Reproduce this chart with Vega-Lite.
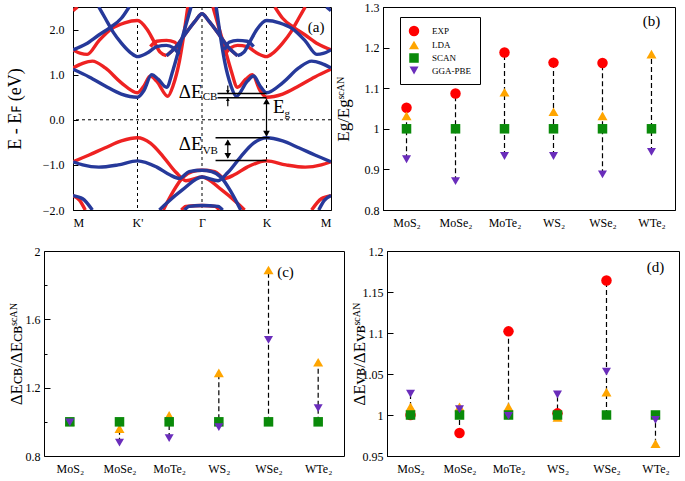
{
  "$schema": "https://vega.github.io/schema/vega-lite/v6.json",
  "padding": {"left": 5, "top": 0, "right": 3, "bottom": 2},
  "background": "white",
  "spacing": 15,
  "resolve": {"scale": {"color": "independent", "shape": "independent", "size": "independent"}, "legend": {"color": "independent", "shape": "independent", "size": "independent"}},
  "datasets": {
    "red": [
      {"b":"r1","k":0,"e":-0.93},{"b":"r1","k":0.25,"e":-0.78},{"b":"r1","k":0.5,"e":-0.62},{"b":"r1","k":0.75,"e":-0.47},{"b":"r1","k":1.0,"e":-0.40},{"b":"r1","k":1.2,"e":-0.52},{"b":"r1","k":1.4,"e":-0.82},{"b":"r1","k":1.6,"e":-1.17},{"b":"r1","k":1.75,"e":-1.35},{"b":"r1","k":2.0,"e":-1.27},{"b":"r1","k":2.3,"e":-1.55},{"b":"r1","k":2.55,"e":-1.85},{"b":"r1","k":2.66,"e":-2.0},
      {"b":"r2","k":1.4,"e":-2.0},{"b":"r2","k":1.55,"e":-1.6},{"b":"r2","k":1.7,"e":-1.28},{"b":"r2","k":1.85,"e":-1.15},{"b":"r2","k":2.0,"e":-1.12},{"b":"r2","k":2.2,"e":-1.15},{"b":"r2","k":2.35,"e":-1.3},{"b":"r2","k":2.5,"e":-1.22},{"b":"r2","k":2.7,"e":-1.05},{"b":"r2","k":3.0,"e":-0.91},{"b":"r2","k":3.3,"e":-1.0},{"b":"r2","k":3.6,"e":-1.05},{"b":"r2","k":3.85,"e":-1.0},{"b":"r2","k":4.0,"e":-0.93},
      {"b":"r3","k":1.68,"e":-2.0},{"b":"r3","k":1.75,"e":-1.92},{"b":"r3","k":2.0,"e":-1.9},{"b":"r3","k":2.2,"e":-1.92},{"b":"r3","k":2.27,"e":-2.0},
      {"b":"r4","k":0,"e":-1.68},{"b":"r4","k":0.1,"e":-1.78},{"b":"r4","k":0.19,"e":-2.0},
      {"b":"r5","k":3.7,"e":-2.0},{"b":"r5","k":3.85,"e":-1.75},{"b":"r5","k":4.0,"e":-1.68},
      {"b":"r6","k":0,"e":1.15},{"b":"r6","k":0.15,"e":1.25},{"b":"r6","k":0.3,"e":1.3},{"b":"r6","k":0.5,"e":1.15},{"b":"r6","k":0.75,"e":0.82},{"b":"r6","k":1.0,"e":0.6},{"b":"r6","k":1.1,"e":0.75},{"b":"r6","k":1.2,"e":0.97},{"b":"r6","k":1.3,"e":0.85},{"b":"r6","k":1.47,"e":0.52},{"b":"r6","k":1.55,"e":0.75},{"b":"r6","k":1.65,"e":1.3},{"b":"r6","k":1.72,"e":1.9},{"b":"r6","k":1.78,"e":2.5},
      {"b":"r7","k":2.17,"e":2.5},{"b":"r7","k":2.25,"e":2.1},{"b":"r7","k":2.35,"e":1.6},{"b":"r7","k":2.45,"e":1.1},{"b":"r7","k":2.55,"e":0.72},{"b":"r7","k":2.68,"e":0.9},{"b":"r7","k":2.78,"e":1.0},{"b":"r7","k":2.9,"e":0.65},{"b":"r7","k":3.0,"e":0.5},{"b":"r7","k":3.25,"e":0.57},{"b":"r7","k":3.5,"e":0.75},{"b":"r7","k":3.75,"e":0.95},{"b":"r7","k":4.0,"e":1.12},
      {"b":"r8","k":0,"e":1.55},{"b":"r8","k":0.12,"e":1.47},{"b":"r8","k":0.22,"e":1.45},{"b":"r8","k":0.4,"e":1.75},{"b":"r8","k":0.6,"e":2.02},{"b":"r8","k":0.8,"e":2.15},{"b":"r8","k":1.0,"e":2.2},{"b":"r8","k":1.15,"e":2.0},{"b":"r8","k":1.25,"e":1.75},{"b":"r8","k":1.35,"e":1.5},{"b":"r8","k":1.45,"e":1.42},
      {"b":"r9","k":1.45,"e":1.42},{"b":"r9","k":1.6,"e":1.62},{"b":"r9","k":1.75,"e":1.92},{"b":"r9","k":1.9,"e":2.2},{"b":"r9","k":2.0,"e":2.35},{"b":"r9","k":2.1,"e":2.2},{"b":"r9","k":2.25,"e":1.92},{"b":"r9","k":2.4,"e":1.62},{"b":"r9","k":2.55,"e":1.42},
      {"b":"r10","k":1.2,"e":1.62},{"b":"r10","k":1.3,"e":1.74},{"b":"r10","k":1.45,"e":1.76},{"b":"r10","k":1.58,"e":1.72},{"b":"r10","k":1.65,"e":1.55},
      {"b":"r11","k":0,"e":2.42},{"b":"r11","k":0.07,"e":2.5},
      {"b":"r13","k":3.13,"e":2.5},{"b":"r13","k":3.25,"e":2.25},{"b":"r13","k":3.42,"e":2.05},{"b":"r13","k":3.6,"e":1.88},{"b":"r13","k":3.8,"e":1.68},{"b":"r13","k":4.0,"e":1.55},
      {"b":"r15","k":2.35,"e":1.45},{"b":"r15","k":2.45,"e":1.6},{"b":"r15","k":2.55,"e":1.65},{"b":"r15","k":2.7,"e":1.62},{"b":"r15","k":2.85,"e":1.48},{"b":"r15","k":3.0,"e":1.4},{"b":"r15","k":3.1,"e":1.48},{"b":"r15","k":3.25,"e":1.7},{"b":"r15","k":3.38,"e":1.95},{"b":"r15","k":3.5,"e":2.25},{"b":"r15","k":3.6,"e":2.5}
    ],
    "blue": [
      {"b":"b1","k":1.34,"e":-2.0},{"b":"b1","k":1.45,"e":-1.85},{"b":"b1","k":1.7,"e":-1.55},{"b":"b1","k":2.0,"e":-1.27},{"b":"b1","k":2.25,"e":-1.35},{"b":"b1","k":2.4,"e":-1.17},{"b":"b1","k":2.6,"e":-0.82},{"b":"b1","k":2.8,"e":-0.52},{"b":"b1","k":3.0,"e":-0.40},{"b":"b1","k":3.25,"e":-0.47},{"b":"b1","k":3.5,"e":-0.62},{"b":"b1","k":3.75,"e":-0.78},{"b":"b1","k":4.0,"e":-0.93},
      {"b":"b2","k":0,"e":-0.93},{"b":"b2","k":0.15,"e":-1.0},{"b":"b2","k":0.4,"e":-1.05},{"b":"b2","k":0.7,"e":-1.0},{"b":"b2","k":1.0,"e":-0.91},{"b":"b2","k":1.3,"e":-1.05},{"b":"b2","k":1.5,"e":-1.22},{"b":"b2","k":1.65,"e":-1.3},{"b":"b2","k":1.8,"e":-1.15},{"b":"b2","k":2.0,"e":-1.12},{"b":"b2","k":2.15,"e":-1.15},{"b":"b2","k":2.3,"e":-1.28},{"b":"b2","k":2.45,"e":-1.6},{"b":"b2","k":2.6,"e":-2.0},
      {"b":"b3","k":1.73,"e":-2.0},{"b":"b3","k":1.8,"e":-1.92},{"b":"b3","k":2.0,"e":-1.9},{"b":"b3","k":2.25,"e":-1.92},{"b":"b3","k":2.32,"e":-2.0},
      {"b":"b4","k":0,"e":-1.68},{"b":"b4","k":0.15,"e":-1.75},{"b":"b4","k":0.3,"e":-2.0},
      {"b":"b5","k":3.81,"e":-2.0},{"b":"b5","k":3.9,"e":-1.78},{"b":"b5","k":4.0,"e":-1.68},
      {"b":"b6","k":0,"e":1.12},{"b":"b6","k":0.25,"e":0.95},{"b":"b6","k":0.5,"e":0.75},{"b":"b6","k":0.75,"e":0.57},{"b":"b6","k":1.0,"e":0.5},{"b":"b6","k":1.1,"e":0.65},{"b":"b6","k":1.22,"e":1.0},{"b":"b6","k":1.32,"e":0.9},{"b":"b6","k":1.45,"e":0.72},{"b":"b6","k":1.55,"e":1.1},{"b":"b6","k":1.65,"e":1.6},{"b":"b6","k":1.75,"e":2.1},{"b":"b6","k":1.83,"e":2.5},
      {"b":"b7","k":2.22,"e":2.5},{"b":"b7","k":2.28,"e":1.9},{"b":"b7","k":2.35,"e":1.3},{"b":"b7","k":2.45,"e":0.75},{"b":"b7","k":2.53,"e":0.52},{"b":"b7","k":2.7,"e":0.85},{"b":"b7","k":2.8,"e":0.97},{"b":"b7","k":2.9,"e":0.75},{"b":"b7","k":3.0,"e":0.6},{"b":"b7","k":3.25,"e":0.82},{"b":"b7","k":3.5,"e":1.15},{"b":"b7","k":3.7,"e":1.3},{"b":"b7","k":3.85,"e":1.25},{"b":"b7","k":4.0,"e":1.15},
      {"b":"b8","k":2.55,"e":1.42},{"b":"b8","k":2.65,"e":1.5},{"b":"b8","k":2.75,"e":1.75},{"b":"b8","k":2.85,"e":2.0},{"b":"b8","k":3.0,"e":2.2},{"b":"b8","k":3.2,"e":2.15},{"b":"b8","k":3.4,"e":2.02},{"b":"b8","k":3.6,"e":1.75},{"b":"b8","k":3.78,"e":1.45},{"b":"b8","k":3.88,"e":1.47},{"b":"b8","k":4.0,"e":1.55},
      {"b":"b9","k":1.45,"e":1.42},{"b":"b9","k":1.6,"e":1.62},{"b":"b9","k":1.75,"e":1.92},{"b":"b9","k":1.9,"e":2.2},{"b":"b9","k":2.0,"e":2.35},{"b":"b9","k":2.1,"e":2.2},{"b":"b9","k":2.25,"e":1.92},{"b":"b9","k":2.4,"e":1.62},{"b":"b9","k":2.55,"e":1.42},
      {"b":"b10","k":2.35,"e":1.55},{"b":"b10","k":2.42,"e":1.72},{"b":"b10","k":2.55,"e":1.76},{"b":"b10","k":2.7,"e":1.74},{"b":"b10","k":2.8,"e":1.62},
      {"b":"b11","k":3.93,"e":2.5},{"b":"b11","k":4.0,"e":2.42},
      {"b":"b13","k":0,"e":1.55},{"b":"b13","k":0.2,"e":1.68},{"b":"b13","k":0.4,"e":1.88},{"b":"b13","k":0.58,"e":2.05},{"b":"b13","k":0.75,"e":2.25},{"b":"b13","k":0.87,"e":2.5},
      {"b":"b15","k":0.4,"e":2.5},{"b":"b15","k":0.5,"e":2.25},{"b":"b15","k":0.62,"e":1.95},{"b":"b15","k":0.75,"e":1.7},{"b":"b15","k":0.9,"e":1.48},{"b":"b15","k":1.0,"e":1.4},{"b":"b15","k":1.15,"e":1.48},{"b":"b15","k":1.3,"e":1.62},{"b":"b15","k":1.45,"e":1.65},{"b":"b15","k":1.55,"e":1.6},{"b":"b15","k":1.65,"e":1.45}
    ],
    "b": [
      {"c":"MoS₂","m":"EXP","v":1.052},{"c":"MoS₂","m":"LDA","v":1.032},{"c":"MoS₂","m":"SCAN","v":1.0},{"c":"MoS₂","m":"GGA-PBE","v":0.925},
      {"c":"MoSe₂","m":"EXP","v":1.087},{"c":"MoSe₂","m":"SCAN","v":1.0},{"c":"MoSe₂","m":"GGA-PBE","v":0.871},
      {"c":"MoTe₂","m":"EXP","v":1.188},{"c":"MoTe₂","m":"LDA","v":1.090},{"c":"MoTe₂","m":"SCAN","v":1.0},{"c":"MoTe₂","m":"GGA-PBE","v":0.933},
      {"c":"WS₂","m":"EXP","v":1.163},{"c":"WS₂","m":"LDA","v":1.042},{"c":"WS₂","m":"SCAN","v":1.0},{"c":"WS₂","m":"GGA-PBE","v":0.933},
      {"c":"WSe₂","m":"EXP","v":1.162},{"c":"WSe₂","m":"LDA","v":1.032},{"c":"WSe₂","m":"SCAN","v":1.0},{"c":"WSe₂","m":"GGA-PBE","v":0.888},
      {"c":"WTe₂","m":"LDA","v":1.184},{"c":"WTe₂","m":"SCAN","v":1.0},{"c":"WTe₂","m":"GGA-PBE","v":0.943}
    ],
    "c": [
      {"c":"MoS₂","m":"LDA","v":1.003},{"c":"MoS₂","m":"SCAN","v":1.0},{"c":"MoS₂","m":"GGA-PBE","v":0.997},
      {"c":"MoSe₂","m":"LDA","v":0.96},{"c":"MoSe₂","m":"SCAN","v":1.0},{"c":"MoSe₂","m":"GGA-PBE","v":0.878},
      {"c":"MoTe₂","m":"LDA","v":1.038},{"c":"MoTe₂","m":"SCAN","v":1.0},{"c":"MoTe₂","m":"GGA-PBE","v":0.905},
      {"c":"WS₂","m":"LDA","v":1.287},{"c":"WS₂","m":"SCAN","v":1.0},{"c":"WS₂","m":"GGA-PBE","v":0.969},
      {"c":"WSe₂","m":"LDA","v":1.889},{"c":"WSe₂","m":"SCAN","v":1.0},{"c":"WSe₂","m":"GGA-PBE","v":1.48},
      {"c":"WTe₂","m":"LDA","v":1.349},{"c":"WTe₂","m":"SCAN","v":1.0},{"c":"WTe₂","m":"GGA-PBE","v":1.08}
    ],
    "d": [
      {"c":"MoS₂","m":"EXP","v":1.0},{"c":"MoS₂","m":"LDA","v":1.010},{"c":"MoS₂","m":"SCAN","v":1.0},{"c":"MoS₂","m":"GGA-PBE","v":1.026},
      {"c":"MoSe₂","m":"EXP","v":0.978},{"c":"MoSe₂","m":"LDA","v":1.010},{"c":"MoSe₂","m":"SCAN","v":1.0},{"c":"MoSe₂","m":"GGA-PBE","v":1.007},
      {"c":"MoTe₂","m":"EXP","v":1.102},{"c":"MoTe₂","m":"LDA","v":1.010},{"c":"MoTe₂","m":"SCAN","v":1.0},{"c":"MoTe₂","m":"GGA-PBE","v":0.999},
      {"c":"WS₂","m":"EXP","v":1.002},{"c":"WS₂","m":"LDA","v":0.997},{"c":"WS₂","m":"SCAN","v":1.0},{"c":"WS₂","m":"GGA-PBE","v":1.025},
      {"c":"WSe₂","m":"EXP","v":1.164},{"c":"WSe₂","m":"LDA","v":1.028},{"c":"WSe₂","m":"SCAN","v":1.0},{"c":"WSe₂","m":"GGA-PBE","v":1.053},
      {"c":"WTe₂","m":"LDA","v":0.965},{"c":"WTe₂","m":"SCAN","v":1.0},{"c":"WTe₂","m":"GGA-PBE","v":0.994}
    ]
  },
  "vconcat": [
    {
      "spacing": 1,
      "resolve": {"scale": {"color": "independent", "shape": "independent", "size": "independent"}, "legend": {"color": "independent", "shape": "independent", "size": "independent"}},
      "hconcat": [
        {
          "width": 258, "height": 203,
          "layer": [
            {
              "data": {"values": [{"k": 1}, {"k": 2}, {"k": 3}]},
              "mark": {"type": "rule", "color": "black", "strokeWidth": 1, "strokeDash": [3, 3]},
              "encoding": {
                "x": {"field": "k", "type": "quantitative", "scale": {"domain": [0, 4], "nice": false, "zero": false},
                  "axis": {"title": null, "values": [0, 1, 2, 3, 4], "ticks": false, "labelPadding": 7, "labelFontSize": 12, "labelFont": "Times New Roman", "labelFlush": true,
                    "labelExpr": "datum.value == 0 || datum.value == 4 ? 'M' : datum.value == 1 ? \"K'\" : datum.value == 2 ? 'Γ' : 'K'"}}
              }
            },
            {
              "data": {"values": [{"e": 0}]},
              "mark": {"type": "rule", "color": "black", "strokeWidth": 1, "strokeDash": [3, 3]},
              "encoding": {
                "y": {"field": "e", "type": "quantitative", "scale": {"domain": [-2, 2.5], "nice": false, "zero": false},
                  "axis": {"title": "E - Eꜰ (eV)", "titleFont": "Times New Roman", "titleFontSize": 18, "titlePadding": 18, "values": [-2, -1.5, -1, -0.5, 0, 0.5, 1, 1.5, 2, 2.5], "format": ".1f", "tickSize": -5, "labelPadding": 14, "labelFontSize": 12, "labelFont": "Times New Roman"}}
              }
            },
            {
              "data": {"name": "red"},
              "mark": {"type": "line", "color": "#ee2222", "strokeWidth": 3.4, "interpolate": "monotone", "clip": true},
              "encoding": {
                "x": {"field": "k", "type": "quantitative"},
                "y": {"field": "e", "type": "quantitative"},
                "detail": {"field": "b", "type": "nominal"}
              }
            },
            {
              "data": {"name": "blue"},
              "mark": {"type": "line", "color": "#26399a", "strokeWidth": 3.4, "interpolate": "monotone", "clip": true},
              "encoding": {
                "x": {"field": "k", "type": "quantitative"},
                "y": {"field": "e", "type": "quantitative"},
                "detail": {"field": "b", "type": "nominal"}
              }
            },
            {
              "data": {"values": [{"k": 2.24, "k2": 3.0, "e": 0.58}, {"k": 2.24, "k2": 3.0, "e": 0.49}, {"k": 2.21, "k2": 3.05, "e": -0.40}, {"k": 2.21, "k2": 3.0, "e": -0.90}]},
              "mark": {"type": "rule", "color": "black", "strokeWidth": 1.5},
              "encoding": {
                "x": {"field": "k", "type": "quantitative"},
                "x2": {"field": "k2"},
                "y": {"field": "e", "type": "quantitative"}
              }
            },
            {
              "data": {"values": [{"k": 3.0, "e": 0.45, "e2": -0.36}, {"k": 2.40, "e": -0.46, "e2": -0.84}, {"k": 2.40, "e": 0.76, "e2": 0.60}, {"k": 2.40, "e": 0.30, "e2": 0.47}]},
              "mark": {"type": "rule", "color": "black", "strokeWidth": 1.2},
              "encoding": {
                "x": {"field": "k", "type": "quantitative"},
                "y": {"field": "e", "type": "quantitative"},
                "y2": {"field": "e2"}
              }
            },
            {
              "data": {"values": [{"k": 3.0, "e": 0.41, "d": "up"}, {"k": 3.0, "e": -0.31, "d": "down"}, {"k": 2.40, "e": -0.50, "d": "up"}, {"k": 2.40, "e": -0.80, "d": "down"}]},
              "mark": {"type": "point", "filled": true, "color": "black", "size": 45, "opacity": 1},
              "encoding": {
                "x": {"field": "k", "type": "quantitative"},
                "y": {"field": "e", "type": "quantitative"},
                "shape": {"field": "d", "type": "nominal", "scale": {"domain": ["up", "down"], "range": ["triangle-up", "triangle-down"]}, "legend": null}
              }
            },
            {
              "data": {"values": [{"k": 2.40, "e": 0.62, "d": "down"}, {"k": 2.40, "e": 0.45, "d": "up"}]},
              "mark": {"type": "point", "filled": true, "color": "black", "size": 14, "opacity": 1},
              "encoding": {
                "x": {"field": "k", "type": "quantitative"},
                "y": {"field": "e", "type": "quantitative"},
                "shape": {"field": "d", "type": "nominal", "scale": {"domain": ["up", "down"], "range": ["triangle-up", "triangle-down"]}, "legend": null}
              }
            },
            {
              "data": {"values": [{"k": 2.01, "e": 0.49, "t": "ΔE"}, {"k": 2.01, "e": -0.67, "t": "ΔE"}, {"k": 3.28, "e": 0.15, "t": "E"}]},
              "mark": {"type": "text", "align": "right", "baseline": "alphabetic", "fontSize": 19, "font": "Liberation Serif", "color": "black"},
              "encoding": {
                "x": {"field": "k", "type": "quantitative"},
                "y": {"field": "e", "type": "quantitative"},
                "text": {"field": "t"}
              }
            },
            {
              "data": {"values": [{"k": 2.01, "e": 0.43, "t": "CB"}, {"k": 2.01, "e": -0.76, "t": "VB"}, {"k": 3.28, "e": 0.06, "t": "g"}]},
              "mark": {"type": "text", "align": "left", "baseline": "alphabetic", "fontSize": 11, "font": "Liberation Serif", "color": "black"},
              "encoding": {
                "x": {"field": "k", "type": "quantitative"},
                "y": {"field": "e", "type": "quantitative"},
                "text": {"field": "t"}
              }
            },
            {
              "data": {"values": [{"k": 3.77, "e": 2.05, "t": "(a)"}]},
              "mark": {"type": "text", "align": "center", "baseline": "middle", "fontSize": 15, "font": "Liberation Serif", "color": "black"},
              "encoding": {
                "x": {"field": "k", "type": "quantitative"},
                "y": {"field": "e", "type": "quantitative"},
                "text": {"field": "t"}
              }
            }
          ]
        },
        {
          "width": 292, "height": 203,
          "data": {"name": "b"},
          "layer": [
            {
              "mark": {"type": "rule", "color": "black", "strokeWidth": 1.2, "strokeDash": [5, 3]},
              "encoding": {
                "x": {"field": "c", "type": "nominal", "scale": {"type": "point", "padding": 0.48, "domain": ["MoS₂", "MoSe₂", "MoTe₂", "WS₂", "WSe₂", "WTe₂"]},
                  "axis": {"title": null, "ticks": false, "labelAngle": 0, "labelPadding": 7, "labelFontSize": 12, "labelFont": "Times New Roman"}},
                "y": {"aggregate": "min", "field": "v", "type": "quantitative", "scale": {"domain": [0.8, 1.3], "nice": false, "zero": false},
                  "axis": {"title": "Eg/Egˢᶜᴬᴺ", "titleFont": "Times New Roman", "titleFontSize": 17, "titlePadding": 12, "values": [0.8, 0.85, 0.9, 0.95, 1.0, 1.05, 1.1, 1.15, 1.2, 1.25, 1.3],
                    "labelExpr": "abs(datum.value*10 - round(datum.value*10)) < 0.01 ? format(datum.value, '.1~f') : ''",
                    "tickSize": {"condition": {"test": "abs(datum.value*10 - round(datum.value*10)) < 0.01", "value": -6}, "value": -3},
                    "labelPadding": 10, "labelFontSize": 12, "labelFont": "Times New Roman"}},
                "y2": {"aggregate": "max", "field": "v"}
              }
            },
            {
              "mark": {"type": "point", "filled": true, "opacity": 1, "strokeWidth": 0},
              "encoding": {
                "x": {"field": "c", "type": "nominal"},
                "y": {"field": "v", "type": "quantitative"},
                "color": {"field": "m", "type": "nominal", "scale": {"domain": ["EXP", "LDA", "SCAN", "GGA-PBE"], "range": ["#ff0000", "#ffa500", "#0a8a0a", "#6a2dbb"]},
                  "legend": {"title": null, "orient": "none", "legendX": 17, "legendY": 10, "strokeColor": "black", "fillColor": "white", "padding": 8, "labelFont": "Liberation Serif", "labelFontSize": 9, "labelOffset": 12, "rowPadding": 2, "labelLimit": 60}},
                "shape": {"field": "m", "type": "nominal", "scale": {"domain": ["EXP", "LDA", "SCAN", "GGA-PBE"], "range": ["circle", "triangle-up", "square", "triangle-down"]}},
                "size": {"field": "m", "type": "nominal", "scale": {"domain": ["EXP", "LDA", "SCAN", "GGA-PBE"], "range": [110, 81, 64, 81]}}
              }
            },
            {
              "data": {"values": [{"c": "WTe₂", "v": 1.265, "t": "(b)"}]},
              "mark": {"type": "text", "align": "center", "baseline": "middle", "fontSize": 15, "font": "Liberation Serif", "color": "black"},
              "encoding": {
                "x": {"field": "c", "type": "nominal"},
                "y": {"field": "v", "type": "quantitative"},
                "text": {"field": "t"}
              }
            }
          ]
        }
      ]
    },
    {
      "spacing": -24,
      "resolve": {"scale": {"color": "independent", "shape": "independent", "size": "independent"}, "legend": {"color": "independent", "shape": "independent", "size": "independent"}},
      "hconcat": [
        {
          "width": 271, "height": 205,
          "view": {"stroke": null},
          "data": {"name": "c"},
          "resolve": {"axis": {"x": "independent", "y": "independent"}},
          "layer": [
            {
              "mark": {"type": "rule", "color": "black", "strokeWidth": 1.2, "strokeDash": [5, 3]},
              "encoding": {
                "x": {"field": "c", "type": "nominal", "scale": {"type": "point", "padding": 0.52, "range": [-29, 271], "domain": ["MoS₂", "MoSe₂", "MoTe₂", "WS₂", "WSe₂", "WTe₂"]},
                  "axis": {"title": null, "ticks": false, "labelAngle": 0, "labelPadding": 7, "labelFontSize": 12, "labelFont": "Times New Roman"}},
                "y": {"aggregate": "min", "field": "v", "type": "quantitative", "scale": {"domain": [0.8, 2.0], "nice": false, "zero": false},
                  "axis": {"title": "ΔEᴄʙ/ΔEᴄʙˢᶜᴬᴺ", "titleFont": "Times New Roman", "titleFontSize": 17, "titlePadding": 0, "offset": 29, "values": [0.8, 1.0, 1.2, 1.4, 1.6, 1.8, 2.0],
                    "labelExpr": "abs(datum.value/0.4 - round(datum.value/0.4)) < 0.01 ? format(datum.value, '.1~f') : ''",
                    "tickSize": {"condition": {"test": "abs(datum.value/0.4 - round(datum.value/0.4)) < 0.01", "value": -6}, "value": -3},
                    "labelPadding": 10, "labelFontSize": 12, "labelFont": "Times New Roman"}},
                "y2": {"aggregate": "max", "field": "v"}
              }
            },
            {
              "mark": {"type": "point", "filled": true, "opacity": 1, "strokeWidth": 0},
              "encoding": {
                "x": {"field": "c", "type": "nominal", "axis": null},
                "y": {"field": "v", "type": "quantitative", "axis": null},
                "color": {"field": "m", "type": "nominal", "scale": {"domain": ["EXP", "LDA", "SCAN", "GGA-PBE"], "range": ["#ff0000", "#ffa500", "#0a8a0a", "#6a2dbb"]}, "legend": null},
                "shape": {"field": "m", "type": "nominal", "scale": {"domain": ["EXP", "LDA", "SCAN", "GGA-PBE"], "range": ["circle", "triangle-up", "square", "triangle-down"]}, "legend": null},
                "size": {"field": "m", "type": "nominal", "scale": {"domain": ["EXP", "LDA", "SCAN", "GGA-PBE"], "range": [110, 81, 64, 81]}, "legend": null}
              }
            },
            {
              "data": {"values": [{"c": "WSe₂", "v": 1.875, "t": "(c)"}]},
              "mark": {"type": "text", "align": "center", "baseline": "middle", "fontSize": 15, "font": "Liberation Serif", "color": "black", "dx": 17},
              "encoding": {
                "x": {"field": "c", "type": "nominal", "axis": {"orient": "top", "title": null, "labels": false, "ticks": false, "domain": true, "domainColor": "black", "domainWidth": 1}},
                "y": {"field": "v", "type": "quantitative", "axis": {"orient": "right", "title": null, "labels": false, "ticks": false, "domain": true, "domainColor": "black", "domainWidth": 1}},
                "text": {"field": "t"}
              }
            }
          ]
        },
        {
          "width": 292, "height": 205,
          "data": {"name": "d"},
          "layer": [
            {
              "mark": {"type": "rule", "color": "black", "strokeWidth": 1.2, "strokeDash": [5, 3]},
              "encoding": {
                "x": {"field": "c", "type": "nominal", "scale": {"type": "point", "padding": 0.48, "domain": ["MoS₂", "MoSe₂", "MoTe₂", "WS₂", "WSe₂", "WTe₂"]},
                  "axis": {"title": null, "ticks": false, "labelAngle": 0, "labelPadding": 7, "labelFontSize": 12, "labelFont": "Times New Roman"}},
                "y": {"aggregate": "min", "field": "v", "type": "quantitative", "scale": {"domain": [0.95, 1.2], "nice": false, "zero": false},
                  "axis": {"title": "ΔEᴠʙ/ΔEᴠʙˢᶜᴬᴺ", "titleFont": "Times New Roman", "titleFontSize": 17, "titlePadding": -6, "values": [0.95, 0.975, 1.0, 1.025, 1.05, 1.075, 1.1, 1.125, 1.15, 1.175, 1.2],
                    "labelExpr": "abs(datum.value*20 - round(datum.value*20)) < 0.01 ? format(datum.value, '.2~f') : ''",
                    "tickSize": {"condition": {"test": "abs(datum.value*20 - round(datum.value*20)) < 0.01", "value": -6}, "value": -3},
                    "labelPadding": 10, "labelFontSize": 12, "labelFont": "Times New Roman"}},
                "y2": {"aggregate": "max", "field": "v"}
              }
            },
            {
              "mark": {"type": "point", "filled": true, "opacity": 1, "strokeWidth": 0},
              "encoding": {
                "x": {"field": "c", "type": "nominal"},
                "y": {"field": "v", "type": "quantitative"},
                "color": {"field": "m", "type": "nominal", "scale": {"domain": ["EXP", "LDA", "SCAN", "GGA-PBE"], "range": ["#ff0000", "#ffa500", "#0a8a0a", "#6a2dbb"]}, "legend": null},
                "shape": {"field": "m", "type": "nominal", "scale": {"domain": ["EXP", "LDA", "SCAN", "GGA-PBE"], "range": ["circle", "triangle-up", "square", "triangle-down"]}, "legend": null},
                "size": {"field": "m", "type": "nominal", "scale": {"domain": ["EXP", "LDA", "SCAN", "GGA-PBE"], "range": [110, 81, 64, 81]}, "legend": null}
              }
            },
            {
              "data": {"values": [{"c": "WTe₂", "v": 1.18, "t": "(d)"}]},
              "mark": {"type": "text", "align": "center", "baseline": "middle", "fontSize": 15, "font": "Liberation Serif", "color": "black"},
              "encoding": {
                "x": {"field": "c", "type": "nominal"},
                "y": {"field": "v", "type": "quantitative"},
                "text": {"field": "t"}
              }
            }
          ]
        }
      ]
    }
  ],
  "config": {
    "font": "Liberation Serif",
    "view": {"stroke": "black", "strokeWidth": 1},
    "style": {"guide-label": {"font": "Liberation Serif"}, "guide-title": {"font": "Liberation Serif"}},
    "axis": {"labelColor": "black", "titleColor": "black", "domainColor": "black", "tickColor": "black", "grid": false, "titleFontWeight": "normal"},
    "text": {"font": "Liberation Serif"}
  }
}
